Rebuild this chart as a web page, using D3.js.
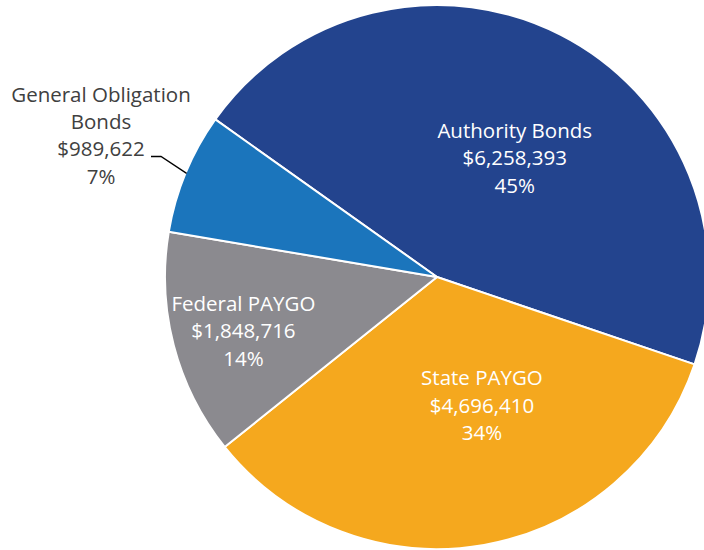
<!DOCTYPE html>
<html>
<head>
<meta charset="utf-8">
<script src="https://cdn.jsdelivr.net/npm/d3@7"></script>
<style>
    html, body { margin: 0; padding: 0; background: #fff; overflow: hidden; }
    svg { display: block; }
    .lbl { font-family: "Open Sans", "Noto Sans", sans-serif; font-size: 20.5px; }
</style>
</head>
<body>
<div id="chart"></div>
<script>
// Funding sources, amounts (dollars) and shares as printed on the chart
const sources = ["Authority Bonds", "State PAYGO", "Federal PAYGO", "General Obligation Bonds"];
const amounts = [6258393, 4696410, 1848716, 989622];
const shares = ["45%", "34%", "14%", "7%"];
const colors = ["#23448e", "#f5a81e", "#8b8a8f", "#1b75bc"];

function drawPie() {
    const width = 704;
    const height = 550;
    const cx = 437, cy = 277;
    const radius = 272;

    const svg = d3.select("#chart")
        .append("svg")
        .attr("width", width)
        .attr("height", height);

    const g = svg.append("g")
        .attr("transform", `translate(${cx},${cy})`);

    const data = sources.map((name, i) => ({ name, value: amounts[i], share: shares[i], color: colors[i] }));

    // Start the first slice at the upper-left, going clockwise
    const pie = d3.pie()
        .sort(null)
        .value(d => d.value)
        .startAngle(-54.6 * Math.PI / 180)
        .endAngle(305.4 * Math.PI / 180);

    const arc = d3.arc().innerRadius(0).outerRadius(radius);
    const arcs = pie(data);

    g.selectAll("path")
        .data(arcs)
        .join("path")
        .attr("d", arc)
        .attr("fill", d => d.data.color)
        .attr("stroke", "#fff")
        .attr("stroke-width", 2)
        .attr("stroke-linejoin", "round");

    const money = d3.format("$,");

    // label placement: polar (radius, angle in degrees) relative to centre
    const labelPolar = {
        "Authority Bonds": [142, 33.2],
        "State PAYGO": [136, 160.7],
        "Federal PAYGO": [201, 254.4]
    };
    const lineH = 27.3;

    arcs.forEach(a => {
        const d = a.data;
        let x, y, lines, fill;
        if (labelPolar[d.name]) {
            const [r, deg] = labelPolar[d.name];
            const t = deg * Math.PI / 180;
            x = cx + r * Math.sin(t);
            y = cy - r * Math.cos(t);
            lines = [d.name, money(d.value), d.share];
            fill = "#fff";
        } else {
            // outside label with leader line to the slice edge
            const mid = (a.startAngle + a.endAngle) / 2;
            const edge = [cx + (radius - 1) * Math.sin(mid), cy - (radius - 1) * Math.cos(mid)];
            x = 101;
            y = 135.5;
            lines = ["General Obligation", "Bonds", money(d.value), d.share];
            fill = "#404040";
            svg.append("polyline")
                .attr("points", `151,156.5 161,156.5 ${edge[0]},${edge[1]}`)
                .attr("fill", "none")
                .attr("stroke", "#000")
                .attr("stroke-width", 1.3);
        }
        const text = svg.append("text")
            .attr("class", "lbl")
            .attr("text-anchor", "middle")
            .attr("fill", fill);
        const offset = -(lines.length - 1) / 2 * lineH;
        lines.forEach((s, i) => {
            text.append("tspan")
                .attr("x", x)
                .attr("y", y + offset + i * lineH)
                .attr("dy", "0.35em")
                .text(s);
        });
    });
}

drawPie();
</script>
</body>
</html>
